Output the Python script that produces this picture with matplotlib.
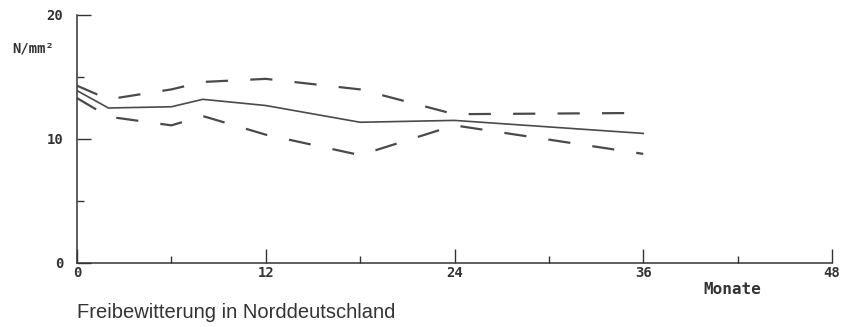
import matplotlib
import numpy as np

matplotlib.use("Agg")
import matplotlib.pyplot as plt  # noqa: E402
from matplotlib.ticker import MultipleLocator  # noqa: E402

plt.rcParams["lines.scale_dashes"] = False

# Prüfzeitpunkte in Monaten und Festigkeiten in N/mm²
months = [0, 2, 6, 8, 12, 18, 24, 36]
mean_strength = [13.9, 12.5, 12.6, 13.2, 12.7, 11.35, 11.5, 10.45]
upper_strength = [14.3, 13.2, 14.0, 14.6, 14.85, 14.0, 12.0, 12.1]
lower_strength = [13.3, 11.8, 11.1, 11.85, 10.35, 8.7, 11.1, 8.8]

x_ticks = [0, 12, 24, 36, 48]
y_ticks = [0, 10, 20]

ink = "#4a4a4a"
mono = "DejaVu Sans Mono"

fig = plt.figure(figsize=(8.41, 3.27), dpi=100)
ax = fig.add_axes([77 / 841, 64 / 327, 755 / 841, 248 / 327])

ax.plot(months, mean_strength, color=ink, linewidth=1.2)
for band in (upper_strength, lower_strength):
    ax.plot(months, band, color=ink, linewidth=1.6, dashes=(16, 16))

ax.set_xlim(0, 48)
ax.set_ylim(0, 20)
ax.set_xticks(x_ticks, [str(v) for v in x_ticks])
ax.set_yticks(y_ticks, [str(v) for v in y_ticks])
ax.xaxis.set_minor_locator(MultipleLocator(6))
ax.yaxis.set_minor_locator(MultipleLocator(5))

for side in ("top", "right"):
    ax.spines[side].set_visible(False)
for side in ("left", "bottom"):
    ax.spines[side].set_color("#333333")
    ax.spines[side].set_linewidth(1.1)

ax.tick_params(which="both", direction="in", color="#333333", width=1.0)
ax.tick_params(which="major", length=10)
ax.tick_params(which="minor", length=5)
ax.tick_params(axis="x", which="major", pad=2)
ax.tick_params(axis="y", which="major", pad=10)
for label in ax.get_xticklabels() + ax.get_yticklabels():
    label.set_fontfamily(mono)
    label.set_fontweight("bold")
    label.set_fontsize(10)
    label.set_color("#333333")

fig.text(12 / 841, 1 - 48 / 327, "N/mm²", family=mono, weight="bold",
         fontsize=10, color="#333333", va="center", ha="left")
fig.text(732 / 841, 1 - 289 / 327, "Monate", family=mono, weight="bold",
         fontsize=11.5, color="#333333", va="center", ha="center")
fig.text(77 / 841, 1 - 318 / 327, "Freibewitterung in Norddeutschland",
         family="Liberation Sans", fontsize=14.5, color="#333333",
         va="baseline", ha="left")

fig.savefig("out.png", dpi=100)
